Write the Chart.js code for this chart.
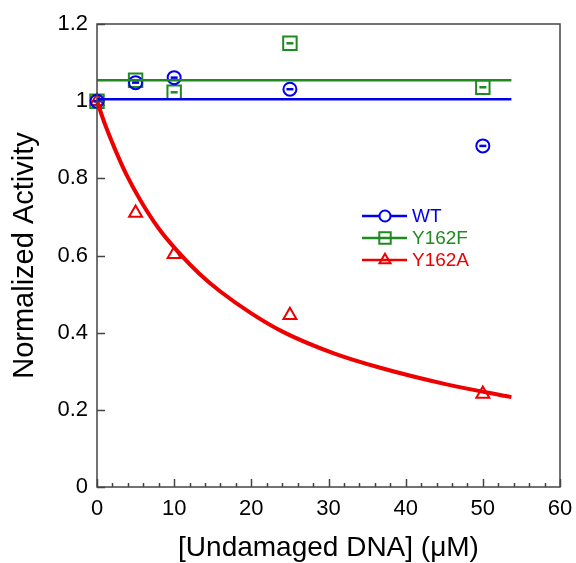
<!DOCTYPE html>
<html>
<head>
<meta charset="utf-8">
<script src="https://cdn.jsdelivr.net/npm/chart.js@4"></script>
<style>
    html, body { margin: 0; padding: 0; background: #fff; overflow: hidden; }
    #contenedor { width: 576px; height: 563px; }
</style>
</head>
<body>
<div id="contenedor"><canvas id="graphActividad"></canvas></div>
<script>
//Datos
const concentraciones = [0, 5, 10, 25, 50];
const actividadWT = [1.0, 1.048, 1.061, 1.031, 0.884];
const actividadY162F = [1.0, 1.054, 1.023, 1.150, 1.036];
const actividadY162A = [1.0, 0.710, 0.603, 0.445, 0.241];

//Ajustes (rectas y curva)
const ajusteX = [0, 53.7];
const ajusteWT = [1.005, 1.005];
const ajusteY162F = [1.054, 1.054];
const curvaX = [0, 1, 2.3, 3.8, 5.6, 8, 10.4, 13.3, 15.9, 20, 24.1, 30.6, 36.7, 45.3, 53.7];
const curvaY162A = [1.0, 0.942, 0.877, 0.81, 0.744, 0.67, 0.612, 0.552, 0.508, 0.45, 0.402, 0.347, 0.309, 0.266, 0.233];

const ticksX = [0, 10, 20, 30, 40, 50, 60];
const ticksY = [0, 0.2, 0.4, 0.6, 0.8, 1.0, 1.2];

const series = [
    { label: 'WT', color: '#0000ee', style: 'circle', radius: 6.5, y: actividadWT },
    { label: 'Y162F', color: '#1f8a1f', style: 'rect', radius: 9.5, y: actividadY162F },
    { label: 'Y162A', color: '#ee0000', style: 'triangle', radius: 7.5, y: actividadY162A }
];

const fuente = "'Liberation Sans', Arial, sans-serif";

function puntos(xs, ys) {
    return xs.map((x, i) => ({ x: x, y: ys[i] }));
}

const datasets = [
    {
        data: puntos(ajusteX, ajusteWT),
        borderColor: series[0].color, borderWidth: 2.5, pointRadius: 0, showLine: true
    },
    {
        data: puntos(ajusteX, ajusteY162F),
        borderColor: series[1].color, borderWidth: 2.5, pointRadius: 0, showLine: true
    },
    {
        data: puntos(curvaX, curvaY162A),
        borderColor: series[2].color, borderWidth: 4, pointRadius: 0, showLine: true,
        cubicInterpolationMode: 'monotone'
    }
];

series.forEach(s => {
    //marcadores
    datasets.push({
        data: puntos(concentraciones, s.y),
        showLine: false,
        pointStyle: s.style,
        pointRadius: s.radius,
        pointBorderWidth: 2,
        pointBorderColor: s.color,
        pointBackgroundColor: 'rgba(0,0,0,0)'
    });
    //barra corta dentro de circulos y cuadrados
    if (s.style !== 'triangle') {
        datasets.push({
            data: puntos(concentraciones, s.y),
            showLine: false,
            pointStyle: 'line',
            pointRadius: 3.5,
            pointBorderWidth: 2.5,
            pointBorderColor: s.color
        });
    }
});

//Marco, ticks hacia dentro y leyenda
const pluginMarco = {
    id: 'marco',
    afterDraw(chart) {
        const { ctx, chartArea: a, scales: { x, y } } = chart;
        ctx.save();
        ctx.strokeStyle = '#444';
        ctx.lineWidth = 1.5;
        ctx.strokeRect(a.left, a.top, a.right - a.left, a.bottom - a.top);

        ctx.beginPath();
        for (let v = 0; v <= 60; v += 2) {
            const px = Math.round(x.getPixelForValue(v)) + 0.5;
            const largo = v % 10 === 0 ? 8 : 4;
            ctx.moveTo(px, a.bottom);
            ctx.lineTo(px, a.bottom - largo);
        }
        ticksY.forEach(v => {
            const py = Math.round(y.getPixelForValue(v)) + 0.5;
            ctx.moveTo(a.left, py);
            ctx.lineTo(a.left + 8, py);
        });
        ctx.stroke();

        //leyenda
        const lx = a.left + 265;
        let ly = a.top + 192;
        series.forEach(s => {
            ctx.strokeStyle = s.color;
            ctx.lineWidth = 2.5;
            ctx.beginPath();
            ctx.moveTo(lx, ly);
            ctx.lineTo(lx + 45, ly);
            ctx.stroke();
            ctx.lineWidth = 2;
            ctx.fillStyle = s.style === 'circle' ? '#fff' : 'rgba(0,0,0,0)';
            Chart.helpers.drawPoint(ctx, {
                pointStyle: s.style,
                radius: s.radius * 0.85,
                borderWidth: 2
            }, lx + 23, ly);
            ctx.fillStyle = s.color;
            ctx.font = '19px ' + fuente;
            ctx.textBaseline = 'middle';
            ctx.fillText(s.label, lx + 50, ly + 1);
            ly += 22;
        });
        ctx.restore();
    }
};

const config = {
    type: 'scatter',
    data: { datasets: datasets },
    options: {
        responsive: true,
        maintainAspectRatio: false,
        animation: false,
        layout: { padding: { top: 24, right: 16, left: 0, bottom: 0 } },
        elements: { point: { hoverRadius: 0 } },
        datasets: { scatter: { clip: false } },
        plugins: {
            legend: { display: false },
            tooltip: { enabled: false }
        },
        scales: {
            x: {
                type: 'linear',
                min: 0,
                max: 60,
                afterFit: scale => {
                    scale.height = 76;
                    scale.paddingLeft = 0;
                    scale.paddingRight = 0;
                },
                afterBuildTicks: scale => { scale.ticks = ticksX.map(v => ({ value: v })); },
                grid: { display: false, drawTicks: false },
                border: { display: false },
                ticks: { color: '#000', font: { family: fuente, size: 22 }, padding: 9 },
                title: {
                    display: true,
                    text: '[Undamaged DNA] (μM)',
                    color: '#000',
                    font: { family: fuente, size: 28, lineHeight: 1 },
                    padding: { top: 0, bottom: 1 }
                }
            },
            y: {
                type: 'linear',
                min: 0,
                max: 1.2,
                afterFit: scale => {
                    scale.width = 97;
                    scale.paddingTop = 0;
                    scale.paddingBottom = 0;
                },
                afterBuildTicks: scale => { scale.ticks = ticksY.map(v => ({ value: v })); },
                grid: { display: false, drawTicks: false },
                border: { display: false },
                ticks: {
                    color: '#000',
                    font: { family: fuente, size: 22 },
                    padding: 9,
                    callback: v => String(Number(v.toFixed(1)))
                },
                title: {
                    display: true,
                    text: 'Normalized Activity',
                    color: '#000',
                    font: { family: fuente, size: 29, lineHeight: 1 },
                    padding: { top: 10, bottom: 0 }
                }
            }
        }
    },
    plugins: [pluginMarco]
};

new Chart(document.querySelector('#graphActividad'), config);
</script>
</body>
</html>
